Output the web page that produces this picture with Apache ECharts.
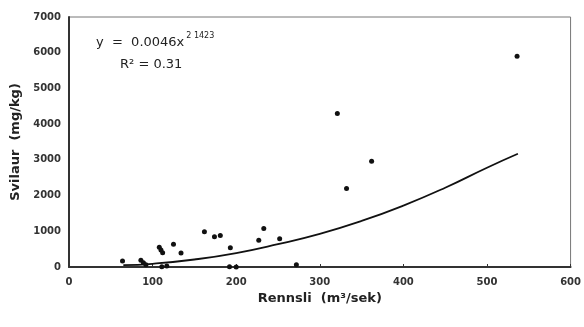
<!DOCTYPE html>
<html>
<head>
<meta charset="utf-8">
<script src="https://cdn.jsdelivr.net/npm/echarts@6/dist/echarts.min.js"></script>
<style>html,body{margin:0;padding:0;background:#fff}#c{width:584px;height:327px}</style>
</head>
<body>
<div id="c"></div>
<script>
// Measured points (Rennsli m3/sek, Svilaur mg/kg)
const obsX = [536, 321, 362, 332, 162, 174, 181, 193, 227, 233, 252, 192, 200, 272, 64, 86, 89, 92, 108, 110, 112, 125, 134, 111, 117];
const obsY = [5900, 4300, 2960, 2200, 990, 850, 880, 540, 750, 1080, 790, 10, 0, 65, 170, 190, 120, 65, 550, 475, 400, 635, 390, 10, 30];
// Trend line
const fitX = [65, 100, 150, 200, 250, 300, 350, 400, 450, 500, 537];
const fitY = [50, 90, 210, 390, 640, 930, 1290, 1720, 2220, 2780, 3170];
const xTicks = [0, 100, 200, 300, 400, 500, 600];
const yTicks = [0, 1000, 2000, 3000, 4000, 5000, 6000, 7000];

const chart = echarts.init(document.getElementById('c'));
const F = 'DejaVu Sans';
chart.setOption({
  animation: false,
  backgroundColor: '#fff',
  grid: {left: 69, right: 13, top: 17, bottom: 60, show: true, borderColor: '#777', borderWidth: 1},
  xAxis: {
    type: 'value', min: xTicks[0], max: xTicks[xTicks.length-1], interval: 100,
    name: 'Rennsli  (m³/sek)', nameLocation: 'middle', nameGap: 22,
    nameTextStyle: {fontFamily: F, fontWeight: 'bold', fontSize: 13, color: '#222'},
    axisLine: {show: true, lineStyle: {color: '#333', width: 2}},
    axisTick: {show: true, inside: true, length: 3, lineStyle: {color: '#333'}},
    axisLabel: {fontFamily: F, fontWeight: 'bold', fontSize: 10, color: '#333', margin: 10, formatter: v => String(v)},
    splitLine: {show: false}
  },
  yAxis: {
    type: 'value', min: yTicks[0], max: yTicks[yTicks.length-1], interval: 1000,
    name: 'Svilaur  (mg/kg)', nameLocation: 'middle', nameGap: 32,
    nameTextStyle: {fontFamily: F, fontWeight: 'bold', fontSize: 13, color: '#222'},
    axisLine: {show: true, lineStyle: {color: '#333', width: 2}},
    axisTick: {show: false},
    axisLabel: {fontFamily: F, fontWeight: 'bold', fontSize: 10, color: '#333', margin: 8, formatter: v => String(v)},
    splitLine: {show: false}
  },
  graphic: [{
    type: 'text', left: 96, top: 32,
    style: {
      text: '{m|y  =  0.0046x}{s|2 1423}',
      rich: {
        m: {fontFamily: F, fontSize: 13, fill: '#222', verticalAlign: 'bottom', lineHeight: 17},
        s: {fontFamily: F, fontSize: 8, fill: '#222', verticalAlign: 'top', lineHeight: 17, padding: [0,0,9,2]}
      }
    }
  }, {
    type: 'text', left: 120, top: 58,
    style: {
      text: 'R² = 0.31',
      fontFamily: F, fontSize: 13, fill: '#222'
    }
  }],
  series: [{
    type: 'line',
    data: fitX.map((x, i) => [x, fitY[i]]),
    smooth: true, showSymbol: false,
    lineStyle: {color: '#111', width: 1.8}
  }, {
    type: 'scatter',
    data: obsX.map((x, i) => [x, obsY[i]]),
    symbolSize: 5,
    itemStyle: {color: '#111', opacity: 1}
  }]
});
</script>
</body>
</html>
